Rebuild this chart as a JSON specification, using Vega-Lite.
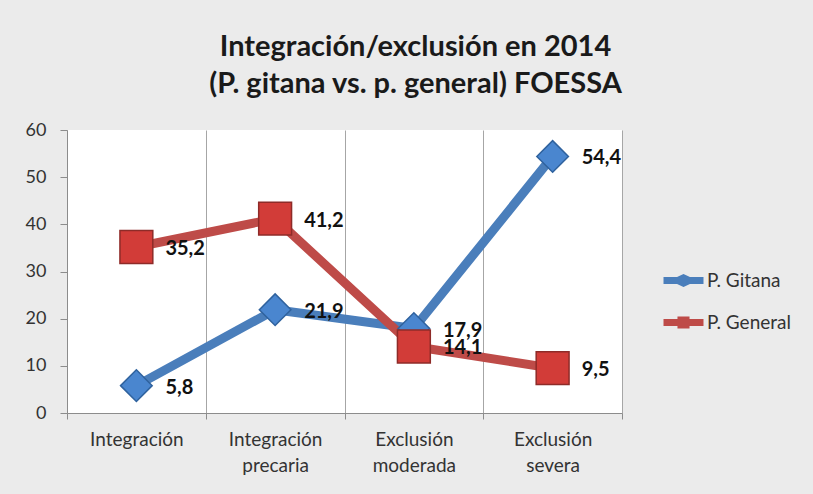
{
  "$schema": "https://vega.github.io/schema/vega-lite/v6.json",
  "autosize": {"type": "none"},
  "width": 555,
  "height": 283,
  "padding": {"left": 67, "top": 130, "right": 191, "bottom": 81},
  "background": "#ebebeb",
  "title": {
    "text": ["Integración/exclusión en 2014", "(P. gitana vs. p. general) FOESSA"],
    "fontSize": 29,
    "fontWeight": "bold",
    "color": "#1a1a1a",
    "anchor": "middle",
    "frame": "group",
    "dx": 71,
    "offset": 22,
    "lineHeight": 37
  },
  "data": {
    "values": [
      {"categoria": "Integración", "serie": "P. Gitana", "valor": 5.8, "etiqueta": "5,8"},
      {"categoria": "Integración precaria", "serie": "P. Gitana", "valor": 21.9, "etiqueta": "21,9"},
      {"categoria": "Exclusión moderada", "serie": "P. Gitana", "valor": 17.9, "etiqueta": "17,9"},
      {"categoria": "Exclusión severa", "serie": "P. Gitana", "valor": 54.4, "etiqueta": "54,4"},
      {"categoria": "Integración", "serie": "P. General", "valor": 35.2, "etiqueta": "35,2"},
      {"categoria": "Integración precaria", "serie": "P. General", "valor": 41.2, "etiqueta": "41,2"},
      {"categoria": "Exclusión moderada", "serie": "P. General", "valor": 14.1, "etiqueta": "14,1"},
      {"categoria": "Exclusión severa", "serie": "P. General", "valor": 9.5, "etiqueta": "9,5"}
    ]
  },
  "encoding": {
    "x": {
      "field": "categoria",
      "type": "nominal",
      "sort": ["Integración", "Integración precaria", "Exclusión moderada", "Exclusión severa"],
      "bandPosition": 0.5,
      "scale": {"type": "band", "paddingInner": 0, "paddingOuter": 0},
      "axis": {
        "title": null,
        "labelAngle": 0,
        "labelExpr": "split(datum.label, ' ')",
        "labelFontSize": 19,
        "labelColor": "#333333",
        "labelLineHeight": 26,
        "labelPadding": 11,
        "tickBand": "extent",
        "grid": true,
        "gridColor": "#a6a6a6",
        "domainColor": "#8c8c8c",
        "tickColor": "#8c8c8c",
        "tickSize": 6
      }
    },
    "y": {
      "field": "valor",
      "type": "quantitative",
      "scale": {"domain": [0, 60]},
      "axis": {
        "title": null,
        "values": [0, 10, 20, 30, 40, 50, 60],
        "grid": false,
        "labelFontSize": 18,
        "labelColor": "#333333",
        "labelPadding": 14,
        "tickSize": 7,
        "domainColor": "#8c8c8c",
        "tickColor": "#8c8c8c"
      }
    }
  },
  "layer": [
    {
      "mark": {"type": "line", "strokeWidth": 9},
      "encoding": {
        "color": {
          "field": "serie",
          "type": "nominal",
          "scale": {"domain": ["P. Gitana", "P. General"], "range": ["#4a7ebb", "#be4b48"]},
          "legend": {
            "title": null,
            "orient": "none",
            "legendX": 595,
            "legendY": 129,
            "padding": 0,
            "labelFontSize": 19,
            "labelColor": "#333333",
            "symbolSize": 1849,
            "symbolType": "M-0.93,-0.16H-0.3L0,-0.3L0.3,-0.16H0.93V0.16H0.3L0,0.3L-0.3,0.16H-0.93Z",
            "symbolStrokeWidth": 0,
            "symbolOpacity": 1,
            "rowPadding": 10,
            "labelOffset": 2,
            "encode": {
              "symbols": {
                "update": {
                  "shape": {"signal": "datum.value === 'P. Gitana' ? 'M-0.93,-0.16H-0.3L0,-0.3L0.3,-0.16H0.93V0.16H0.3L0,0.3L-0.3,0.16H-0.93Z' : 'M-0.93,-0.16H-0.28V-0.28H0.28V-0.16H0.93V0.16H0.28V0.28H-0.28V0.16H-0.93Z'"},
                  "fill": {"signal": "datum.value === 'P. Gitana' ? '#4a7ebb' : '#be4b48'"},
                  "stroke": {"value": "transparent"},
                  "opacity": {"value": 1}
                }
              }
            }
          }
        }
      }
    },
    {
      "transform": [{"filter": "datum.serie === 'P. Gitana'"}],
      "mark": {"type": "point", "shape": "diamond", "filled": true, "opacity": 1, "strokeWidth": 1.5, "size": 1000},
      "encoding": {
        "color": {"value": "#4a86cf"},
        "stroke": {"value": "#2f629e"}
      }
    },
    {
      "transform": [{"filter": "datum.serie === 'P. General'"}],
      "mark": {"type": "point", "shape": "square", "filled": true, "opacity": 1, "strokeWidth": 1.5, "size": 1080},
      "encoding": {
        "color": {"value": "#d23c38"},
        "stroke": {"value": "#8e2b28"}
      }
    },
    {
      "mark": {"type": "text", "align": "left", "baseline": "middle", "dx": 29, "dy": 2, "fontSize": 20, "fontWeight": "bold"},
      "encoding": {
        "text": {"field": "etiqueta"},
        "color": {"value": "#111111"}
      }
    }
  ],
  "config": {
    "font": "Lato",
    "view": {"stroke": null, "fill": "white"}
  }
}
